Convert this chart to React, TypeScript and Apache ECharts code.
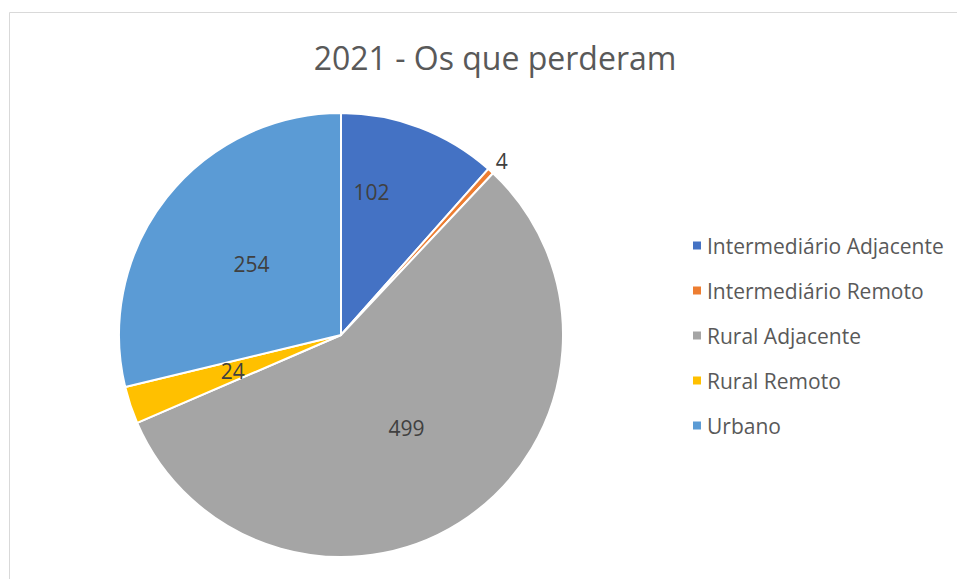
import React, { useEffect, useRef } from "react";
import * as echarts from "echarts";

const categories = [
  "Intermediário Adjacente",
  "Intermediário Remoto",
  "Rural Adjacente",
  "Rural Remoto",
  "Urbano",
];
const values = [102, 4, 499, 24, 254];
const colors = ["#4472C4", "#ED7D31", "#A5A5A5", "#FFC000", "#5B9BD5"];
const titleText = "2021 - Os que perderam";

const FONT = "'Open Sans', 'Noto Sans', sans-serif";

export default function App() {
  const ref = useRef<HTMLDivElement>(null);
  useEffect(() => {
    if (!ref.current) return;
    const chart = echarts.init(ref.current, undefined, { renderer: "svg" });
    const data = categories.map((name, i) => {
      const item: any = { name, value: values[i], itemStyle: { color: colors[i] } };
      if (i === 0) item.label = { offset: [-10, -36] };
      if (i === 1) item.label = { position: "outside", offset: [-4, -6] };
      if (i === 1) item.labelLine = { show: false, length: 6, length2: 0 };
      return item;
    });
    chart.setOption({
      animation: false,
      backgroundColor: "#fff",
      title: {
        text: titleText,
        left: 490,
        textAlign: "center",
        top: 36,
        textStyle: { fontFamily: FONT, fontSize: 32, fontWeight: "normal", color: "#595959" },
      },
      legend: {
        orient: "vertical",
        left: 686,
        top: 230,
        itemWidth: 10,
        itemHeight: 10,
        itemGap: 24,
        icon: "rect",
        textStyle: { fontFamily: FONT, fontSize: 21, color: "#595959" },
        data: categories,
      },
      graphic: [
        {
          type: "rect",
          shape: { x: 9.5, y: 12.5, width: 1200, height: 1000 },
          style: { fill: "none", stroke: "#d9d9d9", lineWidth: 1 },
          silent: true,
        },
      ],
      series: [
        {
          type: "pie",
          center: [341, 335],
          radius: 222,
          startAngle: 90,
          clockwise: true,
          itemStyle: { borderColor: "#fff", borderWidth: 2 },
          label: {
            show: true,
            position: "inside",
            formatter: "{c}",
            fontFamily: FONT,
            fontSize: 21,
            color: "#404040",
          },
          labelLine: { show: false },
          emphasis: { disabled: true },
          data,
        },
      ],
    });
    return () => chart.dispose();
  }, []);
  return (
    <div
      ref={ref}
      style={{ position: "fixed", left: 0, top: 0, width: 957, height: 579 }}
    />
  );
}
